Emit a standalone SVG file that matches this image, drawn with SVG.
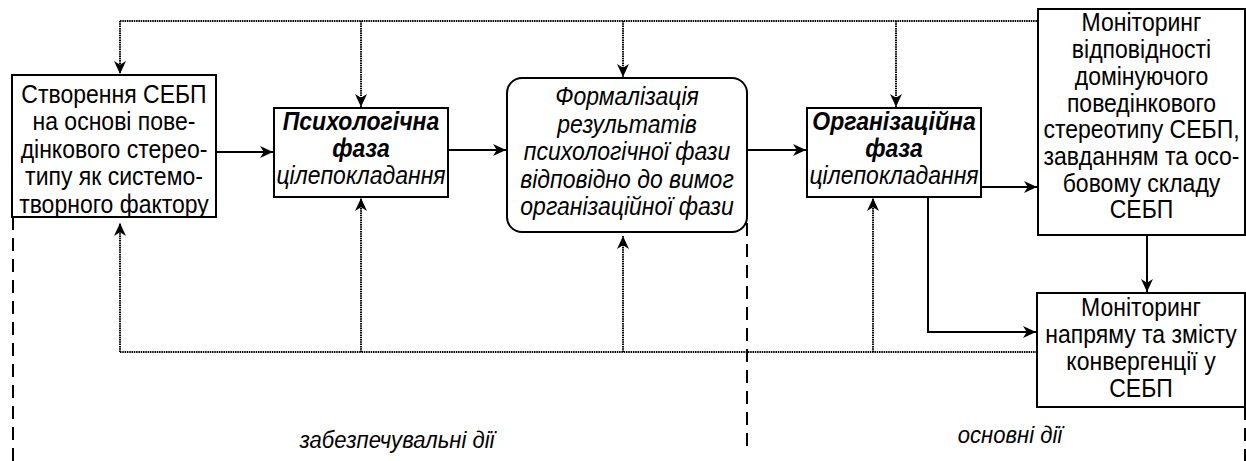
<svg xmlns="http://www.w3.org/2000/svg" width="1246" height="461" viewBox="0 0 1246 461">
<style>
.box{fill:#fff;stroke:#000;stroke-width:2}
.t{font-family:"Liberation Sans",Arial,sans-serif;font-size:25px;fill:#000;text-anchor:middle}
.i{font-style:italic}
.b{font-weight:bold}
.lbl{font-family:"Liberation Sans",Arial,sans-serif;font-size:24px;font-style:italic;fill:#000;text-anchor:middle}
.solid{fill:none;stroke:#000;stroke-width:2}
.dot{fill:none;stroke:#000;stroke-width:2;stroke-dasharray:1.5 0.8}
.dash{fill:none;stroke:#000;stroke-width:2;stroke-dasharray:13 8}
</style>
<defs>
<marker id="arr" viewBox="0 0 12 12" refX="12" refY="6" markerWidth="13" markerHeight="13" markerUnits="userSpaceOnUse" orient="auto">
<path d="M0,0.5 L12,6 L0,11.5 L3.5,6 Z" fill="#000"/>
</marker>
</defs>
<g id="connectors">
<path class="dot" d="M120,21 H1038"/>
<path class="dot" d="M120,21 V74" marker-end="url(#arr)"/>
<path class="dot" d="M361,21 V107" marker-end="url(#arr)"/>
<path class="dot" d="M623,21 V77" marker-end="url(#arr)"/>
<path class="dot" d="M896,21 V107" marker-end="url(#arr)"/>
<path class="dot" d="M120,352 H1037"/>
<path class="dot" d="M120,352 V223" marker-end="url(#arr)"/>
<path class="dot" d="M361,352 V198" marker-end="url(#arr)"/>
<path class="dot" d="M623,352 V236" marker-end="url(#arr)"/>
<path class="dot" d="M873,352 V198" marker-end="url(#arr)"/>
<path class="solid" d="M216,152 H273" marker-end="url(#arr)"/>
<path class="solid" d="M448,150 H506" marker-end="url(#arr)"/>
<path class="solid" d="M747,150 H806" marker-end="url(#arr)"/>
<path class="solid" d="M981,187 H1037" marker-end="url(#arr)"/>
<path class="solid" d="M1147,235 V292" marker-end="url(#arr)"/>
<path class="solid" d="M928,197 V332 H1036" marker-end="url(#arr)"/>
<path class="dash" d="M13,217 V461"/>
<path class="dash" d="M747,223 V450"/>
<path class="dash" d="M1245,407 V461"/>
</g>
<g id="node-create">
<rect class="box" x="12" y="75" width="204" height="142"/>
<g transform="translate(114 0) scale(0.92 1)">
<text class="t" x="0" y="102.7">Створення СЕБП</text>
<text class="t" x="0" y="130.2">на основі пове-</text>
<text class="t" x="0" y="157.7">дінкового стерео-</text>
<text class="t" x="0" y="185.2">типу як системо-</text>
<text class="t" x="0" y="212.7">творного фактору</text>
</g>
</g>
<g id="node-psych">
<rect class="box" x="274" y="108" width="174" height="89"/>
<g transform="translate(361 0) scale(0.92 1)">
<text class="t i b" x="0" y="130">Психологічна</text>
<text class="t i b" x="0" y="157">фаза</text>
<text class="t i" x="0" y="184.5">цілепокладання</text>
</g>
</g>
<g id="node-formal">
<rect class="box" x="507" y="78" width="240" height="154" rx="15" ry="15"/>
<g transform="translate(627 0) scale(0.92 1)">
<text class="t i" x="0" y="105.5">Формалізація</text>
<text class="t i" x="0" y="133">результатів</text>
<text class="t i" x="0" y="160.5">психологічної фази</text>
<text class="t i" x="0" y="188">відповідно до вимог</text>
<text class="t i" x="0" y="215.5">організаційної фази</text>
</g>
</g>
<g id="node-org">
<rect class="box" x="807" y="108" width="174" height="89"/>
<g transform="translate(894 0) scale(0.92 1)">
<text class="t i b" x="0" y="130">Організаційна</text>
<text class="t i b" x="0" y="157">фаза</text>
<text class="t i" x="0" y="184.5">цілепокладання</text>
</g>
</g>
<g id="node-mon1">
<rect class="box" x="1038" y="9" width="207" height="226"/>
<g transform="translate(1141.5 0) scale(0.92 1)">
<text class="t" x="0" y="31.5">Моніторинг</text>
<text class="t" x="0" y="58.2">відповідності</text>
<text class="t" x="0" y="84.9">домінуючого</text>
<text class="t" x="0" y="111.6">поведінкового</text>
<text class="t" x="0" y="138.3">стереотипу СЕБП,</text>
<text class="t" x="0" y="165">завданням та осо-</text>
<text class="t" x="0" y="191.7">бовому складу</text>
<text class="t" x="0" y="218.4">СЕБП</text>
</g>
</g>
<g id="node-mon2">
<rect class="box" x="1037" y="293" width="208" height="114"/>
<g transform="translate(1141 0) scale(0.92 1)">
<text class="t" x="0" y="316">Моніторинг</text>
<text class="t" x="0" y="343">напряму та змісту</text>
<text class="t" x="0" y="370.5">конвергенції у</text>
<text class="t" x="0" y="397">СЕБП</text>
</g>
</g>
<g id="labels">
<g transform="translate(397 0) scale(0.92 1)">
<text class="lbl" x="0" y="448">забезпечувальні дії</text>
</g>
<g transform="translate(1010 0) scale(0.92 1)">
<text class="lbl" x="0" y="443">основні дії</text>
</g>
</g>
</svg>
